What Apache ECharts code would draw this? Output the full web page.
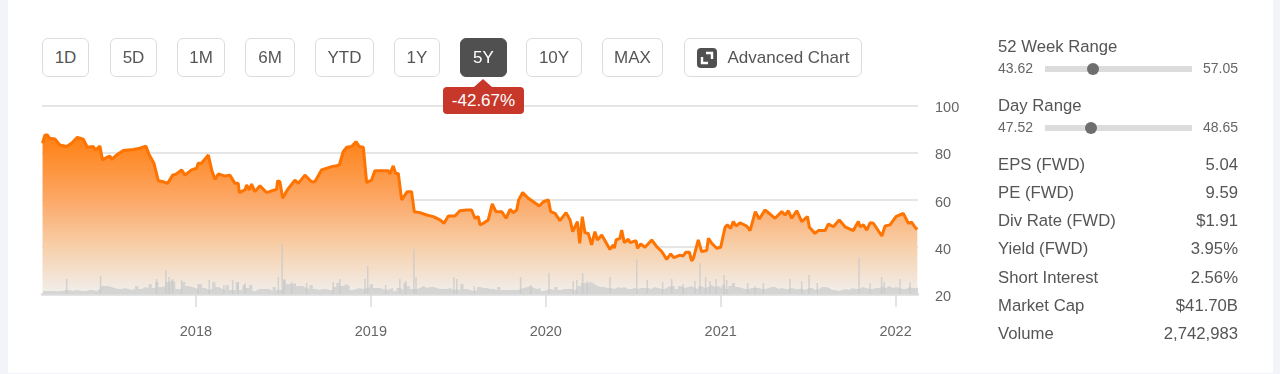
<!DOCTYPE html>
<html>
<head>
<meta charset="utf-8">
<title>5Y price chart</title>
<script src="https://cdn.jsdelivr.net/npm/echarts@6/dist/echarts.min.js"></script>
<style>
  html, body { margin: 0; padding: 0; background: #f3f4f9; }
  body { width: 1280px; height: 374px; overflow: hidden; position: relative; font-family: "Liberation Sans", Arial, sans-serif; color: #555; }
  #panel { position: absolute; left: 8px; top: 0; width: 1265px; height: 372.5px; background: #fff; }
  #chart { position: absolute; left: 0; top: 0; width: 1280px; height: 374px; }
  .btn { position: absolute; top: 38px; height: 39px; box-sizing: border-box; border: 1.5px solid #dcdcdc; border-radius: 6px; background: #fff; font-size: 17px; line-height: 37px; text-align: center; color: #555; }
  .btn.on { background: #505050; border-color: #505050; color: #fff; }
  #change { position: absolute; left: 443px; top: 87px; width: 81px; height: 27px; background: #c8382a; border-radius: 4px; color: #fff; font-size: 17px; line-height: 27px; text-align: center; }
  #change:before { content: ""; position: absolute; left: 31px; top: -8px; border-left: 9px solid transparent; border-right: 9px solid transparent; border-bottom: 8px solid #c8382a; }
  .row { position: absolute; left: 998px; width: 240px; height: 20px; font-size: 16.7px; line-height: 20px; color: #555; }
  .row span { position: absolute; right: 0; top: 0; }
  .small { position: absolute; left: 998px; width: 240px; height: 16px; font-size: 14px; line-height: 16px; color: #666; }
  .small span { position: absolute; right: 0; top: 0; }
  .track { position: absolute; left: 1045px; width: 147px; height: 6px; background: #dcdcdc; }
  .dot { position: absolute; top: -3px; width: 12px; height: 12px; margin-left: -6px; border-radius: 50%; background: #6e6e6e; }
</style>
</head>
<body>
<div id="panel"></div>
<div id="chart"></div>
<div id="controls"></div>
<div id="change">-42.67%</div>
<div id="stats"></div>
<script>
// price (x = decimal year)
const priceYears = [
  2017.123, 2017.137, 2017.15, 2017.165, 2017.194, 2017.222, 2017.26, 2017.289, 2017.322, 2017.356, 2017.379, 2017.413, 2017.426, 2017.451, 2017.466, 2017.489, 2017.508, 2017.518, 2017.546, 2017.585, 2017.642, 2017.68, 2017.714, 2017.731, 2017.76, 2017.785, 2017.813, 2017.838, 2017.867, 2017.889, 2017.918, 2017.937, 2017.975,
  2018.004, 2018.013, 2018.032, 2018.071, 2018.09, 2018.109, 2018.128, 2018.166, 2018.194, 2018.223, 2018.242, 2018.248, 2018.28, 2018.29, 2018.305, 2018.318, 2018.337, 2018.366, 2018.404, 2018.461, 2018.467, 2018.48, 2018.496, 2018.522, 2018.566, 2018.585, 2018.623, 2018.661, 2018.68, 2018.718, 2018.776, 2018.804, 2018.82, 2018.842, 2018.861, 2018.89, 2018.915, 2018.934, 2018.957, 2018.976,
  2019.004, 2019.023, 2019.1, 2019.109, 2019.128, 2019.142, 2019.157, 2019.176, 2019.208, 2019.233, 2019.248, 2019.281, 2019.319, 2019.357, 2019.395, 2019.418, 2019.443, 2019.481, 2019.509, 2019.548, 2019.576, 2019.595, 2019.614, 2019.624, 2019.643, 2019.671, 2019.694, 2019.715, 2019.748, 2019.773, 2019.796, 2019.815, 2019.834, 2019.845, 2019.868, 2019.9, 2019.929, 2019.963, 2019.986,
  2020.015, 2020.028, 2020.053, 2020.081, 2020.116, 2020.139, 2020.154, 2020.181, 2020.194, 2020.209, 2020.224, 2020.243, 2020.262, 2020.281, 2020.295, 2020.32, 2020.367, 2020.386, 2020.392, 2020.402, 2020.424, 2020.434, 2020.449, 2020.472, 2020.482, 2020.516, 2020.524, 2020.543, 2020.567, 2020.606, 2020.634, 2020.663, 2020.691, 2020.714, 2020.733, 2020.767, 2020.786, 2020.8, 2020.821, 2020.834, 2020.844, 2020.872, 2020.891, 2020.92, 2020.93, 2020.949, 2020.977,
  2021.0, 2021.025, 2021.038, 2021.057, 2021.072, 2021.088, 2021.11, 2021.149, 2021.168, 2021.198, 2021.221, 2021.253, 2021.282, 2021.311, 2021.349, 2021.368, 2021.387, 2021.406, 2021.435, 2021.463, 2021.496, 2021.507, 2021.539, 2021.558, 2021.597, 2021.616, 2021.644, 2021.678, 2021.711, 2021.758, 2021.787, 2021.797, 2021.816, 2021.835, 2021.854, 2021.873, 2021.921, 2021.94, 2021.968,
  2022.002, 2022.044, 2022.073, 2022.092, 2022.111, 2022.124
];
const prices = [
  83.9, 87.4, 87.4, 86.0, 85.7, 83.2, 82.5, 83.9, 86.4, 85.6, 82.2, 82.5, 81.0, 82.7, 76.8, 77.9, 78.5, 77.1, 78.9, 80.8, 81.3, 81.8, 82.7, 79.3, 75.4, 68.0, 67.6, 66.9, 70.4, 70.9, 72.6, 70.4, 72.6,
  73.3, 75.4, 75.4, 78.9, 72.6, 68.6, 70.9, 70.0, 70.4, 66.9, 66.9, 63.0, 64.1, 66.2, 64.1, 66.6, 63.4, 65.9, 63.0, 64.4, 68.0, 67.6, 60.6, 64.1, 68.3, 66.9, 70.4, 67.6, 67.6, 72.6, 74.0, 74.4, 74.7, 80.3, 82.2, 82.5, 84.6, 82.5, 82.2, 67.2,
  68.3, 72.3, 72.3, 70.9, 74.3, 71.1, 71.1, 59.9, 63.4, 63.4, 54.9, 54.5, 53.5, 52.8, 51.4, 50.0, 53.1, 53.1, 55.3, 55.6, 55.6, 52.1, 52.8, 49.3, 50.0, 51.4, 58.2, 54.9, 54.9, 52.1, 55.9, 54.5, 55.6, 59.9, 63.0, 60.6, 59.1, 57.3, 59.1,
  59.9, 54.9, 54.2, 51.1, 54.5, 51.4, 46.4, 50.7, 41.5, 52.8, 46.0, 45.7, 40.8, 46.4, 42.9, 45.0, 38.9, 40.8, 39.4, 42.9, 43.6, 47.1, 41.8, 43.2, 41.8, 42.6, 39.4, 41.2, 39.8, 42.9, 40.1, 38.0, 34.7, 37.0, 35.4, 36.5, 36.1, 37.7, 37.7, 34.1, 35.1, 42.9, 38.0, 38.4, 43.6, 41.5, 39.4,
  39.8, 48.3, 49.3, 47.8, 50.7, 48.8, 50.2, 48.8, 46.9, 54.9, 51.8, 55.6, 53.9, 52.1, 54.9, 53.5, 55.3, 52.1, 55.3, 50.7, 52.8, 48.3, 45.7, 46.9, 46.9, 49.7, 48.5, 51.4, 48.5, 46.9, 50.7, 48.5, 49.3, 47.1, 50.2, 50.0, 44.6, 48.8, 49.3,
  52.8, 54.2, 50.0, 50.4, 48.3, 47.4
];

// volume in millions of shares, one value per week from the chart start
const volumeStart = 2017.125;
const volumeStep = 7 / 365.25;
const volumeWeekly = [
  3, 3, 3, 3, 2.5, 3, 3, 4, 4, 3, 4, 3.5, 3, 3, 4, 4, 3, 5, 8, 8, 7, 6, 5, 5, 6, 5, 4, 5, 8, 5, 7, 6, 10, 6, 12, 7, 8, 12, 14, 12, 5, 5, 12, 8, 7,
  6, 5, 10, 6, 4, 5, 12, 7, 5, 4, 9, 4, 4, 12, 4, 9, 6, 9, 3, 5, 5, 5, 5, 3, 7, 4, 4, 14, 10, 10, 11, 8, 8, 6, 5, 9, 5, 4, 5, 5, 4, 4, 7, 11, 8,
  10, 8, 4, 5, 6, 5, 6, 7, 10, 6, 6, 5, 4, 5, 6, 3, 6, 4, 11, 8, 5, 5, 6, 8, 6, 7, 7, 6, 5, 5, 5, 6, 4, 5, 4, 10, 5, 4, 3, 4, 7, 6, 6, 5, 5, 4,
  7, 4, 4, 4, 4, 4, 5, 6, 7, 8, 6, 5, 6, 3, 4, 5, 4, 7, 4, 5, 5, 5, 4, 5, 8, 11, 11, 12, 10, 8, 7, 7, 6, 6, 5, 7, 6, 7, 5, 5, 6, 5, 6, 6, 6,
  5, 7, 6, 5, 5, 7, 8, 8, 5, 8, 6, 7, 8, 6, 5, 8, 6, 7, 9, 7, 8, 6, 9, 5, 8, 11, 7, 6, 5, 5, 6, 6, 6, 5, 5, 6, 7, 7, 5, 6, 5, 5, 6, 5, 5,
  5, 4, 6, 6, 4, 5, 7, 7, 6, 4, 4, 3, 4, 5, 4, 6, 5, 5, 7, 6, 5, 5, 6, 6, 7, 6, 8, 6, 7, 6, 5, 5, 7, 6, 6, 7, 7, 6
];
// single heavy volume days
const peakYears = [
  2017.261, 2017.455, 2017.775, 2017.828, 2017.846, 2017.867, 2017.918, 2018.013, 2018.076, 2018.16, 2018.21, 2018.242, 2018.28, 2018.471, 2018.493, 2018.505, 2018.547, 2018.633, 2018.785, 2018.823, 2018.966, 2018.982,
  2019.085, 2019.166, 2019.199, 2019.246, 2019.258, 2019.475, 2019.491, 2019.591, 2019.856, 2019.914, 2020.018, 2020.157, 2020.177, 2020.211, 2020.237, 2020.367, 2020.52, 2020.58, 2020.668, 2020.72, 2020.786, 2020.853, 2020.882, 2020.914, 2020.939, 2020.973,
  2021.019, 2021.034, 2021.154, 2021.196, 2021.244, 2021.396, 2021.463, 2021.505, 2021.552, 2021.791, 2021.854, 2021.92, 2021.934, 2022.025, 2022.082
];
const peakVolumes = [
  15, 18, 15, 24, 17, 15, 14, 10, 14, 9, 14, 12, 11, 17, 50, 15, 12, 11, 12, 15, 15, 28,
  9, 15, 13, 45, 17, 17, 15, 8, 17, 9, 21, 13, 14, 21, 13, 17, 35, 14, 12, 15, 10, 13, 31, 17, 13, 15,
  19, 14, 11, 8, 11, 15, 13, 19, 11, 36, 11, 17, 12, 15, 12
];

const yearTicks = [2018, 2019, 2020, 2021, 2022];
const rangeButtons = [
  ["1D", 42, 47], ["5D", 110, 47], ["1M", 177, 48], ["6M", 245, 50], ["YTD", 315, 59],
  ["1Y", 394, 46], ["5Y", 460, 47], ["10Y", 526, 56], ["MAX", 602, 61]
];
const ranges = [
  { label: "52 Week Range", low: 43.62, high: 57.05, now: 47.96, y: 47 },
  { label: "Day Range", low: 47.52, high: 48.65, now: 47.87, y: 106 }
];
const statNames = ["EPS (FWD)", "PE (FWD)", "Div Rate (FWD)", "Yield (FWD)", "Short Interest", "Market Cap", "Volume"];
const statValues = ["5.04", "9.59", "$1.91", "3.95%", "2.56%", "$41.70B", "2,742,983"];

// buttons
let html = "";
rangeButtons.forEach(function (b) {
  html += '<div class="btn' + (b[0] === "5Y" ? " on" : "") + '" style="left:' + b[1] + "px;width:" + b[2] + 'px">' + b[0] + "</div>";
});
html += '<div class="btn" style="left:684px;width:178px;text-align:left;padding-left:42.5px">Advanced Chart' +
  '<svg style="position:absolute;left:11.5px;top:8.5px" width="20" height="20" viewBox="0 0 20 20">' +
  '<rect width="20" height="20" rx="4" fill="#505050"/>' +
  '<path d="M9 5h6v6M11 15H5V9" fill="none" stroke="#fff" stroke-width="2.4"/></svg></div>';
document.getElementById("controls").innerHTML = html;

// right hand column
let side = "";
ranges.forEach(function (r) {
  side += '<div class="row" style="top:' + (r.y - 10) + 'px">' + r.label + "</div>";
  side += '<div class="small" style="top:' + (r.y + 13) + 'px">' + r.low.toFixed(2) + "<span>" + r.high.toFixed(2) + "</span></div>";
  side += '<div class="track" style="top:' + (r.y + 19) + 'px"><div class="dot" style="left:' + ((r.now - r.low) / (r.high - r.low)) * 100 + '%"></div></div>';
});
statNames.forEach(function (name, i) {
  side += '<div class="row" style="top:' + (154.5 + i * 28.33) + 'px">' + name + "<span>" + statValues[i] + "</span></div>";
});
document.getElementById("stats").innerHTML = side;

const chart = echarts.init(document.getElementById("chart"));
chart.setOption({
  animation: false,
  grid: { left: 42, right: 362, top: 105.3, bottom: 80 },
  xAxis: {
    type: "value",
    min: 2017.12,
    max: 2022.128,
    splitLine: { show: false },
    axisLine: { show: true, onZero: false, lineStyle: { color: "#dcdcdc", width: 2.5 } },
    axisTick: { show: true, customValues: yearTicks, length: 13, lineStyle: { color: "#dcdcdc", width: 1.5 } },
    axisLabel: {
      customValues: yearTicks,
      margin: 30,
      color: "#666",
      fontSize: 14.5,
      fontFamily: "Liberation Sans",
      formatter: function (v) { return String(v); }
    }
  },
  yAxis: [
    {
      type: "value",
      position: "right",
      min: 20,
      max: 100,
      interval: 20,
      axisLine: { show: false },
      axisTick: { show: false },
      splitLine: { show: true, lineStyle: { color: "#dcdcdc", width: 1.5 } },
      axisLabel: { margin: 17, color: "#666", fontSize: 14.5, fontFamily: "Liberation Sans", verticalAlign: "top", lineHeight: 6 }
    },
    { type: "value", min: 0, max: 189, show: false, splitLine: { show: false } }
  ],
  series: [
    {
      name: "Price",
      type: "line",
      data: priceYears.map(function (y, i) { return [y, prices[i]]; }),
      showSymbol: false,
      z: 2,
      lineStyle: { color: "#ff7300", width: 3 },
      areaStyle: {
        origin: "start",
        opacity: 1,
        color: {
          type: "linear", x: 0, y: 0, x2: 0, y2: 1,
          colorStops: [
            { offset: 0, color: "#ff7f10" },
            { offset: 0.4, color: "#fca765" },
            { offset: 0.7, color: "#f7cfa9" },
            { offset: 1, color: "#f1efed" }
          ]
        }
      }
    },
    {
      name: "Volume",
      type: "line",
      yAxisIndex: 1,
      step: "middle",
      showSymbol: false,
      z: 3,
      lineStyle: { width: 0 },
      areaStyle: { color: "rgba(208,208,208,0.85)", opacity: 1 },
      data: volumeWeekly.map(function (v, i) { return [volumeStart + i * volumeStep, v]; })
    },
    {
      name: "Volume peaks",
      type: "bar",
      yAxisIndex: 1,
      barWidth: 1.5,
      z: 3,
      itemStyle: { color: "rgba(200,200,200,0.75)" },
      data: peakYears.map(function (y, i) { return [y, peakVolumes[i]]; })
    }
  ]
});
</script>
</body>
</html>
